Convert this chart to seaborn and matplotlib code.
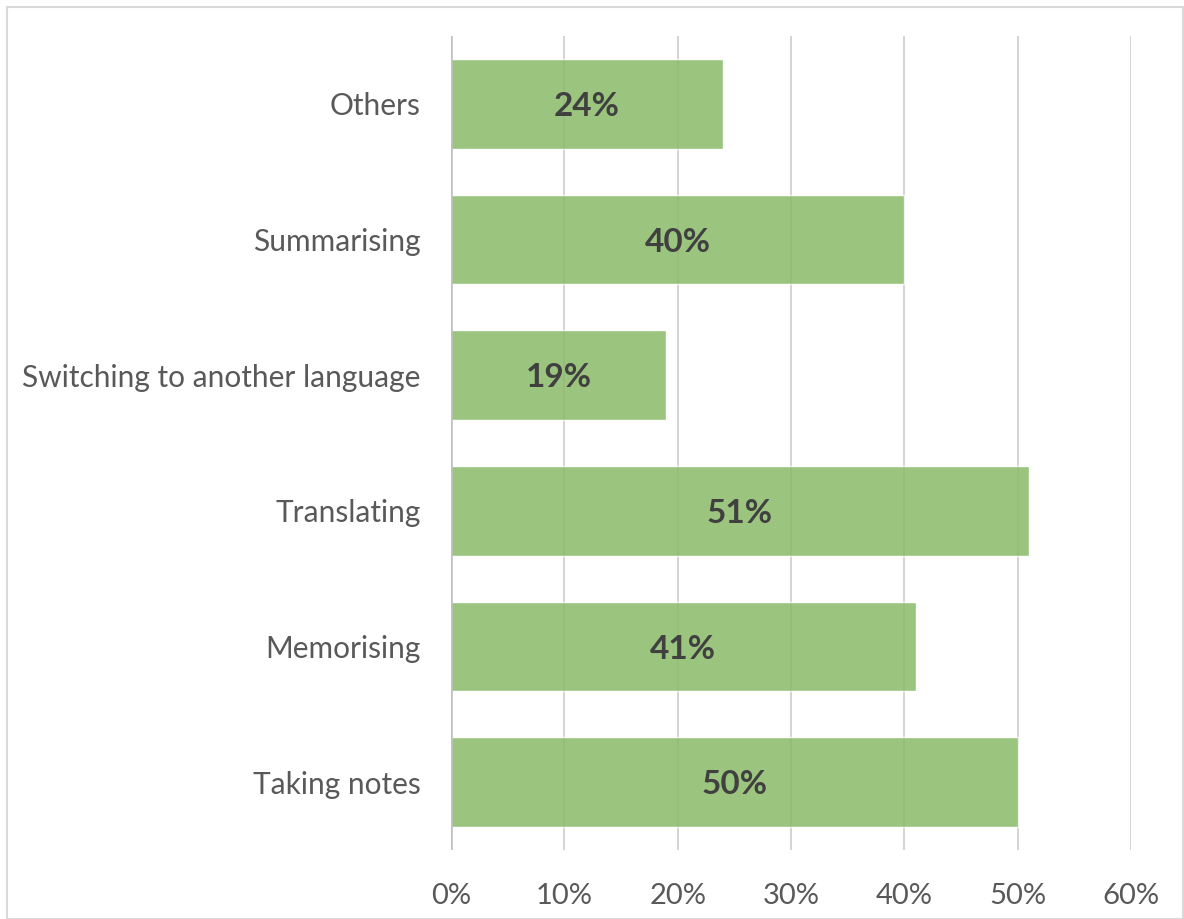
import matplotlib.pyplot as plt
import pandas as pd
import seaborn as sns
from matplotlib.patches import Rectangle
from matplotlib.ticker import FuncFormatter

# ── Data ──────────────────────────────────────────────────────────────────────
categories = [
    "Others",
    "Summarising",
    "Switching to another language",
    "Translating",
    "Memorising",
    "Taking notes",
]
shares = [24, 40, 19, 51, 41, 50]
x_ticks = [0, 10, 20, 30, 40, 50, 60]

df = pd.DataFrame({"strategy": categories, "share": shares})

# ── Style ─────────────────────────────────────────────────────────────────────
sns.set_theme(style="white")
plt.rcParams["font.family"] = ["Lato", "DejaVu Sans"]
GREEN = "#9BC47E"
TEXT = "#595959"
GRID = "#D9D9D9"

fig = plt.figure(figsize=(11.84, 9.19), dpi=100)
ax = fig.add_axes([0.3809, 0.0751, 0.9552 - 0.3809, 0.9608 - 0.0751])

ax.set_axisbelow(True)
ax.xaxis.grid(True, color=GRID, lw=1.2)
sns.barplot(data=df, x="share", y="strategy", orient="h", color=GREEN,
            width=0.66, saturation=1, ax=ax)
# faint gridlines showing through the bars, as in the original
ax.vlines(x_ticks[1:], -0.5, 5.5, color="#7F7F7F", lw=1.2, alpha=0.12, zorder=3)
ax.axvline(0, color="#BFBFBF", lw=1.8, zorder=3)

for i, v in enumerate(shares):
    ax.text(v / 2, i + 0.02, f"{v}%", ha="center", va="center", fontsize=24,
            fontweight="bold", color="#404040", zorder=4)

ax.set_xlim(0, 60)
ax.set_ylim(5.5, -0.5)
ax.set_xticks(x_ticks)
ax.xaxis.set_major_formatter(FuncFormatter(lambda v, _: f"{v:.0f}%"))
ax.tick_params(axis="x", labelsize=21, colors=TEXT, length=0, pad=24)
ax.tick_params(axis="y", labelsize=21.5, colors=TEXT, length=0, pad=22)
ax.set_xlabel("")
ax.set_ylabel("")
for s in ax.spines.values():
    s.set_visible(False)

# outer chart border
fig.patches.append(Rectangle((7 / 1184, 0), 1 - 7 / 1184 - 0.0005, 1 - 7 / 919,
                             transform=fig.transFigure, fill=False,
                             edgecolor="#D9D9D9", lw=1.5))

fig.savefig("out.png", dpi=100, facecolor="white")
